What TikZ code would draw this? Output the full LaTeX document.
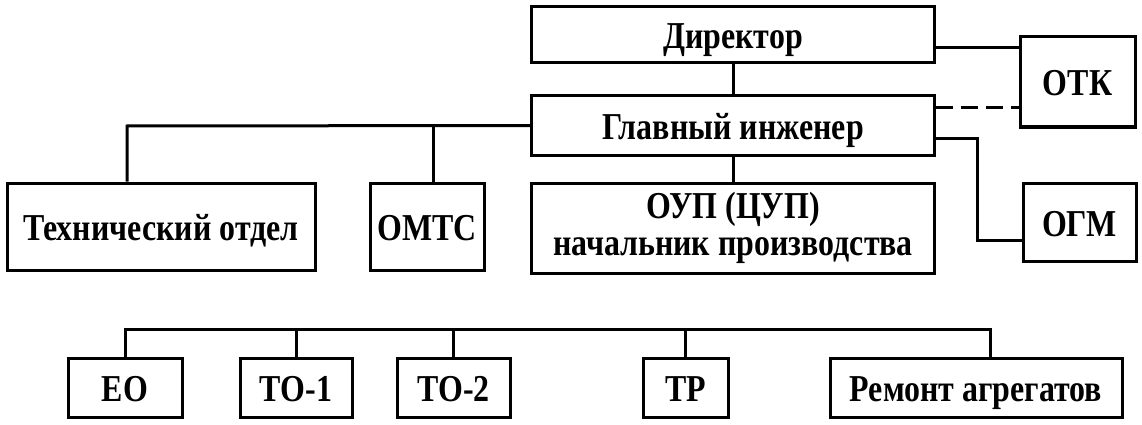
\documentclass[tikz,border=0pt]{standalone}
\usepackage{fontspec}
\setmainfont[FakeStretch=0.84]{Liberation Serif}
\begin{document}
\begin{tikzpicture}[x=1pt,y=-1pt,
  box/.style={draw=black, line width=3pt, minimum width=#1, inner sep=0pt,
    font=\fontsize{38}{37}\selectfont\bfseries},
  one/.style={text height=30pt, text depth=2pt},
  conn/.style={line width=3pt},
  dconn/.style={line width=3pt, dash pattern=on 17pt off 8pt}]
\useasboundingbox (0,0) rectangle (1142,425);
% top block
\node[box=403pt, one, minimum height=56pt] (dir) at (733,35) {Директор};
\node[box=403pt, one, minimum height=60pt] (gi) at (733,125.5) {Главный инженер};
\node[box=115pt, one, minimum height=90pt] (otk) at (1077.5,82) {ОТК};
\node[box=308pt, one, minimum height=87pt] (tech) at (161,226.5) {Технический отдел};
\node[box=114pt, one, minimum height=87pt] (omts) at (427,226.5) {ОМТС};
\node[box=403pt, align=center, minimum height=90pt] (oup) at (733,228) {ОУП (ЦУП)\\начальник производства};
\node[box=113pt, one, minimum height=78pt] (ogm) at (1079.5,222.5) {ОГМ};
% bottom row
\node[box=114pt, one, minimum height=59pt] (eo) at (125,387.5) {ЕО};
\node[box=112pt, one, minimum height=59pt] (to1) at (296,387.5) {ТО-1};
\node[box=113pt, one, minimum height=59pt] (to2) at (453.5,387.5) {ТО-2};
\node[box=85pt, one, minimum height=59pt] (tr) at (685.5,387.5) {ТР};
\node[box=292pt, one, minimum height=59pt] (rem) at (976,387.5) {Ремонт агрегатов};
% connectors
\draw[conn] (dir) -- (gi);
\draw[conn] (gi) -- (oup);
\draw[conn] (dir.east |- 0,48) -- (otk.west |- 0,48);
\draw[dconn] (gi.east |- 0,108) -- (otk.west |- 0,108);
\coordinate (ogmturn) at (977,138);
\draw[conn] (gi.east |- ogmturn) -- (ogmturn) |- (ogm.west |- 0,240);
\coordinate (lbus) at (127,126);
\draw[conn] (gi.west) -- (lbus) -- (tech.north -| lbus);
\draw[conn] (omts.north -| 433,0) -- (433,0 |- lbus);
\coordinate (bbus) at (0,329);
\coordinate (remtop) at (990,0);
\draw[conn] (eo.north) |- (remtop |- bbus) -- (remtop |- rem.north);
\draw[conn] (to1.north) -- (to1.north |- bbus);
\draw[conn] (to2.north) -- (to2.north |- bbus);
\draw[conn] (tr.north) -- (tr.north |- bbus);
\end{tikzpicture}
\end{document}
